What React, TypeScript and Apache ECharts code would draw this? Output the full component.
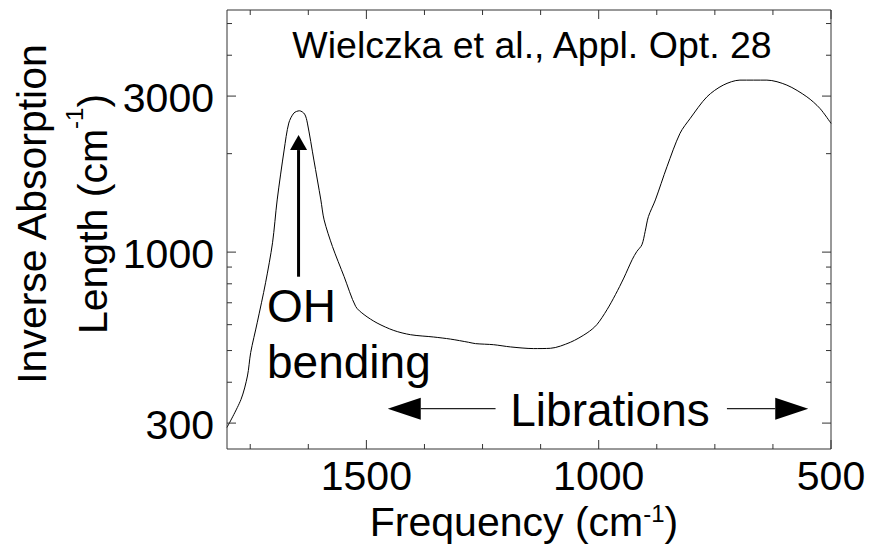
import React, { useEffect, useRef } from 'react';
import * as echarts from 'echarts';

// Inverse absorption length of liquid water across the OH-bending and libration bands
const frequency = [
  1800, 1770, 1756, 1749, 1735, 1717, 1702, 1692, 1677, 1667, 1656, 1644, 1633, 1627,
  1613, 1598, 1591, 1573, 1548, 1523, 1505, 1477, 1441, 1405, 1355, 1319, 1280, 1265,
  1226, 1190, 1140, 1104, 1061, 1025, 1004, 982, 964, 946, 928, 918, 907, 900, 893,
  878, 853, 825, 803, 767, 732, 696, 638, 595, 552, 524, 500,
];
const inverseLength = [
  291, 354, 418, 493, 608, 806, 1068, 1444, 2053, 2481, 2662, 2705, 2643, 2481,
  1912, 1444, 1255, 1040, 842, 682, 644, 607, 576, 559, 550, 542, 530, 525,
  521, 513, 507, 508, 530, 566, 600, 667, 741, 833, 948, 1004, 1053, 1156, 1284,
  1444, 1825, 2308, 2564, 2985, 3241, 3357, 3357, 3241, 2985, 2752, 2476,
];

// Axis ranges and tick values
const xRange = [500, 1800];
const yRange = [250, 5500];
const xMajorTicks = [1500, 1000, 500];
const xMinorTicks = [1750, 1625, 1375, 1250, 1125, 875, 750, 625];
const yMajorTicks = [300, 1000, 3000];
const yMinorTicks = [400, 500, 600, 700, 800, 900, 2000, 4000, 5000];

// Annotation arrows: [fromFreq, fromValue, toFreq, toValue]
const ohArrow = [[1646, 841, 1646, 2280]];
const librationArrows = [
  [1222, 332, 1454, 332],
  [724, 332, 549, 332],
];

const FONT = '"Liberation Sans", Arial, Helvetica, sans-serif';
const FRAME = '#333';

function makeArrowRenderer(shaftWidth: number, headLength: number, headWidth: number, shaftColor: string) {
  return (params: any, api: any) => {
    const p0 = api.coord([api.value(0), api.value(1)]);
    const p1 = api.coord([api.value(2), api.value(3)]);
    const dx = p1[0] - p0[0];
    const dy = p1[1] - p0[1];
    const len = Math.hypot(dx, dy) || 1;
    const ux = dx / len;
    const uy = dy / len;
    const bx = p1[0] - ux * headLength;
    const by = p1[1] - uy * headLength;
    const nx = -uy;
    const ny = ux;
    const hw = headWidth / 2;
    return {
      type: 'group',
      children: [
        {
          type: 'line',
          shape: { x1: p0[0], y1: p0[1], x2: bx, y2: by },
          style: { stroke: shaftColor, lineWidth: shaftWidth },
        },
        {
          type: 'polygon',
          shape: {
            points: [
              [p1[0], p1[1]],
              [bx + nx * hw, by + ny * hw],
              [bx - nx * hw, by - ny * hw],
            ],
          },
          style: { fill: '#000' },
        },
      ],
    };
  };
}

function renderTicks(params: any, api: any) {
  const cs = params.coordSys;
  const left = cs.x;
  const right = cs.x + cs.width;
  const top = cs.y;
  const bottom = cs.y + cs.height;
  const children: any[] = [];
  const tick = (x1: number, y1: number, x2: number, y2: number) =>
    children.push({
      type: 'line',
      shape: { x1, y1, x2, y2 },
      style: { stroke: FRAME, lineWidth: 1 },
    });

  xMajorTicks.forEach((v) => {
    const x = api.coord([v, yRange[0]])[0];
    tick(x, bottom, x, bottom - 9);
    tick(x, top, x, top + 9);
    children.push({
      type: 'text',
      style: {
        text: String(v), x, y: bottom + 27, align: 'center', verticalAlign: 'middle',
        fontSize: 41, fontFamily: FONT, fill: '#000',
      },
    });
  });
  xMinorTicks.forEach((v) => {
    const x = api.coord([v, yRange[0]])[0];
    tick(x, bottom, x, bottom - 5);
    tick(x, top, x, top + 5);
  });
  yMajorTicks.forEach((v) => {
    const y = api.coord([xRange[0], v])[1];
    tick(left, y, left + 9, y);
    tick(right, y, right - 9, y);
    children.push({
      type: 'text',
      style: {
        text: String(v), x: left - 13, y: y + 2, align: 'right', verticalAlign: 'middle',
        fontSize: 41, fontFamily: FONT, fill: '#000',
      },
    });
  });
  yMinorTicks.forEach((v) => {
    const y = api.coord([xRange[0], v])[1];
    tick(left, y, left + 5, y);
    tick(right, y, right - 5, y);
  });
  return { type: 'group', children };
}

export default function App() {
  const ref = useRef<HTMLDivElement>(null);

  useEffect(() => {
    if (!ref.current) return;
    const chart = echarts.init(ref.current, null, { renderer: 'svg' });
    const hidden = {
      axisLine: { show: false },
      axisTick: { show: false },
      axisLabel: { show: false },
      splitLine: { show: false },
    };
    chart.setOption({
      animation: false,
      backgroundColor: '#fff',
      grid: {
        left: 227,
        right: 38,
        top: 10,
        bottom: 98,
        show: true,
        borderColor: FRAME,
        borderWidth: 1,
      },
      xAxis: {
        type: 'value',
        min: xRange[0],
        max: xRange[1],
        inverse: true,
        ...hidden,
      },
      yAxis: {
        type: 'log',
        logBase: 10,
        min: yRange[0],
        max: yRange[1],
        ...hidden,
      },
      graphic: [
        {
          type: 'text',
          x: 532,
          y: 45,
          style: {
            text: 'Wielczka et al., Appl. Opt. 28',
            fontSize: 37.5, fontFamily: FONT, fill: '#000',
            align: 'center', verticalAlign: 'middle',
          },
        },
        {
          type: 'text',
          x: 267,
          y: 334,
          style: {
            text: 'OH\nbending',
            fontSize: 46, lineHeight: 56, fontFamily: FONT, fill: '#000',
            align: 'left', verticalAlign: 'middle',
          },
        },
        {
          type: 'text',
          x: 610,
          y: 410,
          style: {
            text: 'Librations',
            fontSize: 46, fontFamily: FONT, fill: '#000',
            align: 'center', verticalAlign: 'middle',
          },
        },
        {
          type: 'text',
          x: 524,
          y: 522,
          style: {
            text: '{a|Frequency (cm}{s|-1}{a|)}',
            align: 'center', verticalAlign: 'middle',
            rich: {
              a: { fontSize: 41, lineHeight: 42, fontFamily: FONT, fill: '#000' },
              s: { fontSize: 24, lineHeight: 24, fontFamily: FONT, fill: '#000', verticalAlign: 'top' },
            },
          },
        },
        {
          type: 'text',
          x: 62,
          y: 214,
          rotation: Math.PI / 2,
          style: {
            text: '{a|Inverse Absorption}\n{a|Length (cm}{s|-1}{a|)}',
            align: 'center', verticalAlign: 'middle',
            rich: {
              a: { fontSize: 41, lineHeight: 61, fontFamily: FONT, fill: '#000' },
              s: { fontSize: 24, lineHeight: 24, fontFamily: FONT, fill: '#000', verticalAlign: 'top' },
            },
          },
        },
      ],
      series: [
        {
          name: 'Inverse absorption length',
          type: 'line',
          data: frequency.map((f, i) => [f, inverseLength[i]]),
          showSymbol: false,
          smooth: 0.3,
          lineStyle: { color: '#000', width: 1 },
          z: 3,
        },
        {
          name: 'ticks',
          type: 'custom',
          data: [[1000, 1000]],
          renderItem: renderTicks,
          silent: true,
          z: 4,
        },
        {
          name: 'OH arrow',
          type: 'custom',
          data: ohArrow,
          encode: { x: [0, 2], y: [1, 3] },
          renderItem: makeArrowRenderer(3, 15, 17, '#000'),
          silent: true,
          z: 5,
        },
        {
          name: 'libration arrows',
          type: 'custom',
          data: librationArrows,
          encode: { x: [0, 2], y: [1, 3] },
          renderItem: makeArrowRenderer(1.3, 33, 22, '#222'),
          silent: true,
          z: 5,
        },
      ],
    });
    return () => chart.dispose();
  }, []);

  return (
    <div
      ref={ref}
      style={{ position: 'fixed', left: 0, top: 0, width: 869, height: 547 }}
    />
  );
}
